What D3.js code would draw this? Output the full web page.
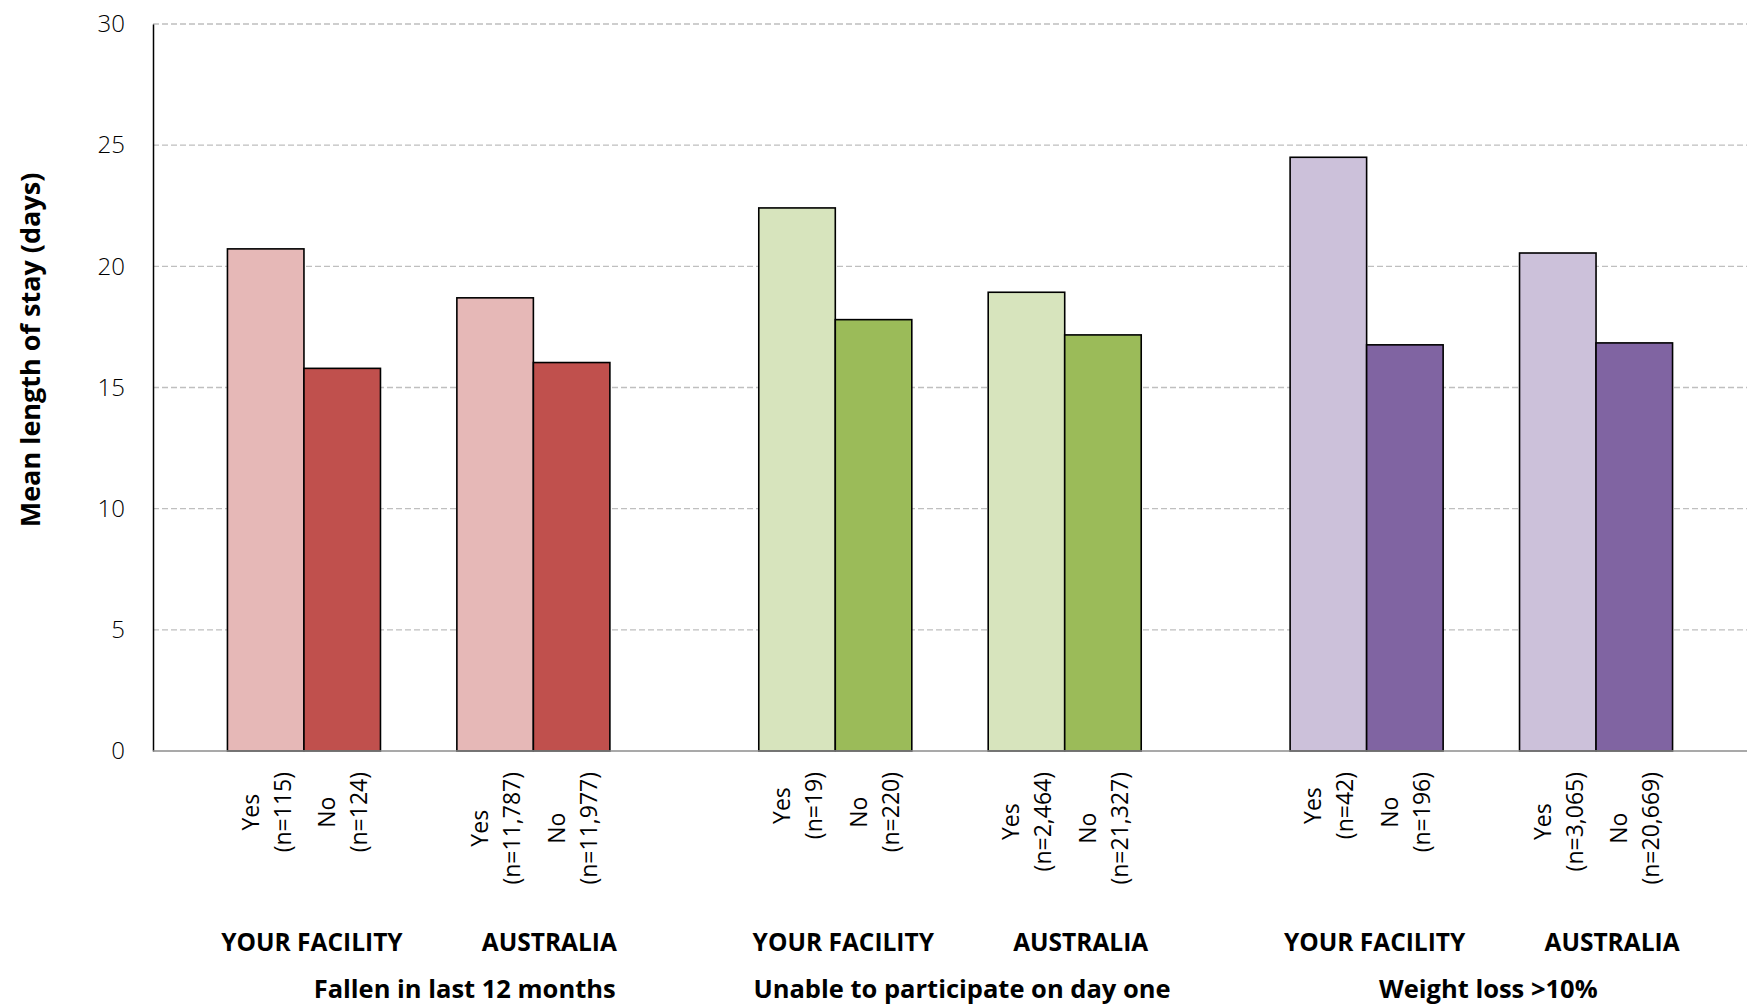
<!DOCTYPE html>
<html>
<head>
<meta charset="utf-8">
<script src="https://cdn.jsdelivr.net/npm/d3@7"></script>
<style>
  html, body { margin: 0; padding: 0; background: #ffffff; }
  svg { display: block; font-family: "Open Sans", "Lato", sans-serif; }
</style>
</head>
<body>
<svg id="chart" width="1758" height="1008"></svg>
<script>
// ---------------- data ----------------
const groups = ["Fallen in last 12 months", "Unable to participate on day one", "Weight loss >10%"];
const sites = ["YOUR FACILITY", "AUSTRALIA"];
const answers = ["Yes", "No"];

// order: [YOUR FACILITY Yes, YOUR FACILITY No, AUSTRALIA Yes, AUSTRALIA No]
const fallenValues = [20.72, 15.79, 18.70, 16.03];
const unableValues = [22.41, 17.80, 18.93, 17.17];
const weightValues = [24.50, 16.76, 20.55, 16.84];

const fallenN = ["115", "124", "11,787", "11,977"];
const unableN = ["19", "220", "2,464", "21,327"];
const weightN = ["42", "196", "3,065", "20,669"];

const yTicks = [0, 5, 10, 15, 20, 25, 30];
const yTitle = "Mean length of stay (days)";

const lightColors = ["#e6b8b7", "#d7e4bd", "#ccc1da"];
const darkColors = ["#c0504d", "#9bbb59", "#8064a2"];

// ---------------- build ----------------
const valuesByGroup = [fallenValues, unableValues, weightValues];
const nByGroup = [fallenN, unableN, weightN];
const rows = [];
groups.forEach((g, gi) => {
  sites.forEach((s, si) => {
    answers.forEach((a, ai) => {
      const k = si * 2 + ai;
      rows.push({ group: g, gi, site: s, answer: a, ai,
                  value: valuesByGroup[gi][k], n: nByGroup[gi][k] });
    });
  });
});

const svg = d3.select("#chart");
const plotLeft = 153, plotRight = 1747, plotTop = 24, plotBottom = 751;
const fontMain = "'Open Sans', Lato, sans-serif";

const y = d3.scaleLinear().domain([0, 30]).range([plotBottom, plotTop]);
const x0 = d3.scaleBand().domain(groups).range([plotLeft, plotRight]).padding(0);
const x1 = d3.scalePoint().domain(sites).range([0, x0.bandwidth()]).padding(0.658);
const barW = x0.bandwidth() * 0.144;
const x2 = d3.scaleBand().domain(answers).range([-barW, barW]).padding(0);

const barX = d => x0(d.group) + x1(d.site) + x2(d.answer);
const barCenter = d => barX(d) + x2.bandwidth() / 2;

// gridlines
svg.append("g")
  .selectAll("line")
  .data(yTicks.filter(t => t > 0))
  .join("line")
  .attr("x1", plotLeft).attr("x2", plotRight)
  .attr("y1", d => y(d)).attr("y2", d => y(d))
  .attr("stroke", "#bfbfbf").attr("stroke-width", 1.3)
  .attr("stroke-dasharray", "6,3");

// y axis
const yAxis = d3.axisLeft(y).tickValues(yTicks).tickSize(0).tickPadding(28);
const gy = svg.append("g").attr("transform", `translate(${plotLeft},0)`).call(yAxis);
gy.select(".domain").attr("stroke", "#000").attr("stroke-width", 1.5);
gy.selectAll(".tick text")
  .attr("font-family", fontMain)
  .attr("font-size", 24)
  .attr("font-weight", 300)
  .attr("fill", "#000");

// bars
svg.append("g")
  .selectAll("rect")
  .data(rows)
  .join("rect")
  .attr("x", d => barX(d))
  .attr("width", x2.bandwidth())
  .attr("y", d => y(d.value))
  .attr("height", d => y(0) - y(d.value))
  .attr("fill", d => d.ai === 0 ? lightColors[d.gi] : darkColors[d.gi])
  .attr("stroke", "#000")
  .attr("stroke-width", 1.6);

// x axis baseline
svg.append("line")
  .attr("x1", plotLeft).attr("x2", plotRight)
  .attr("y1", y(0)).attr("y2", y(0))
  .attr("stroke", "#8c8c8c").attr("stroke-width", 1.6);

// category labels (rotated, two lines)
const catTop = 772;
rows.forEach(d => {
  const g = svg.append("g").attr("transform", `translate(${barCenter(d)},${catTop}) rotate(-90)`);
  const lines = [d.answer, `(n=${d.n})`];
  const texts = lines.map((t, i) => g.append("text")
    .attr("y", (i === 0 ? -16 : 16))
    .attr("text-anchor", "middle")
    .attr("dominant-baseline", "central")
    .attr("font-family", fontMain)
    .attr("font-size", 23)
    .attr("font-weight", 400)
    .attr("fill", "#000")
    .text(t));
  const maxLen = d3.max(texts, t => t.node().getComputedTextLength());
  texts.forEach(t => t.attr("x", -maxLen / 2));
});

// site labels
const siteLabelNudge = [8, 16];
groups.forEach(g => {
  sites.forEach((s, si) => {
    svg.append("text")
      .attr("x", x0(g) + x1(s) + siteLabelNudge[si])
      .attr("y", 941)
      .attr("text-anchor", "middle")
      .attr("dominant-baseline", "central")
      .attr("font-family", fontMain)
      .attr("font-size", 24.5)
      .attr("font-weight", 700)
      .attr("fill", "#000")
      .text(s);
  });
});

// group labels
const groupLabelNudge = [46, 12, 7];
groups.forEach((g, i) => {
  svg.append("text")
    .attr("x", x0(g) + x0.bandwidth() / 2 + groupLabelNudge[i])
    .attr("y", 988)
    .attr("text-anchor", "middle")
    .attr("dominant-baseline", "central")
    .attr("font-family", fontMain)
    .attr("font-size", 25.5)
    .attr("font-weight", 700)
    .attr("fill", "#000")
    .text(g);
});

// y title
svg.append("text")
  .attr("transform", `translate(40,350) rotate(-90)`)
  .attr("text-anchor", "middle")
  .attr("font-family", fontMain)
  .attr("font-size", 27)
  .attr("font-weight", 700)
  .attr("fill", "#000")
  .text(yTitle);
</script>
</body>
</html>
